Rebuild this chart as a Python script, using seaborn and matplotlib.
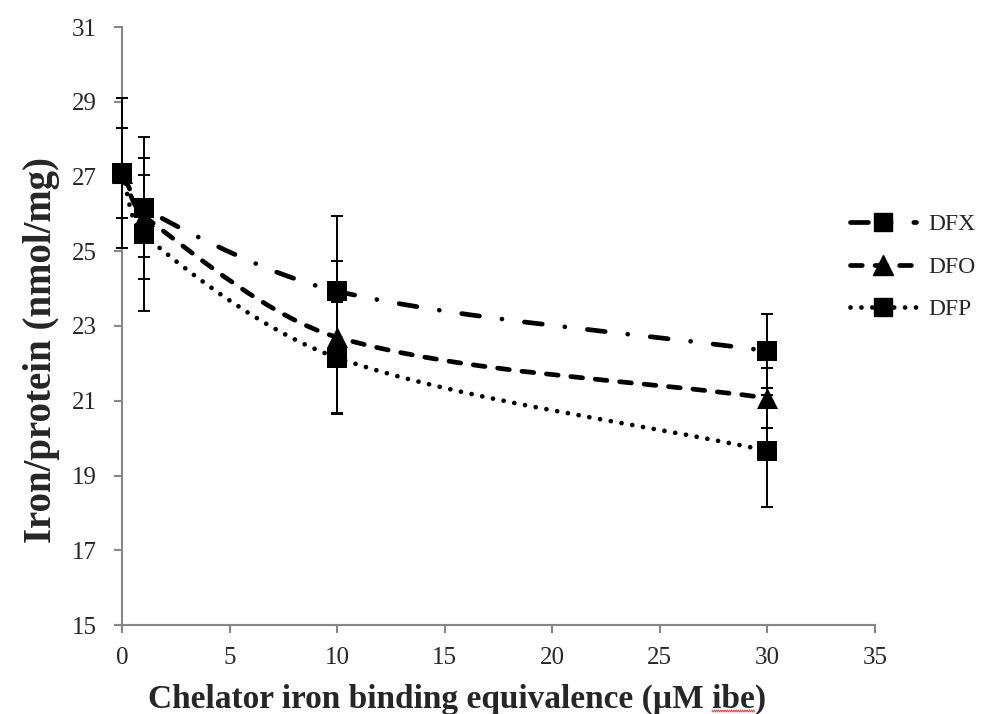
import numpy as np
import matplotlib
matplotlib.use("Agg")
import matplotlib.pyplot as plt
from matplotlib.path import Path
from matplotlib.patches import PathPatch
from matplotlib.lines import Line2D
from matplotlib.text import Text
import seaborn as sns

# Chelator dose (µM iron binding equivalence)
doses = [0, 1, 10, 30]

# Cellular iron / protein (nmol/mg), mean and error
dfx_mean = [27.1, 26.15, 23.93, 22.33]
dfx_err = [2.0, 1.9, 2.0, 1.0]
dfo_mean = [27.1, 25.95, 22.7, 21.07]
dfo_err = [1.2, 1.1, 2.03, 0.8]
dfp_mean = [27.1, 25.45, 22.15, 19.66]
dfp_err = [2.0, 2.05, 1.5, 1.5]

series_names = ["DFX", "DFO", "DFP"]
x_ticks = [0, 5, 10, 15, 20, 25, 30, 35]
y_ticks = [15, 17, 19, 21, 23, 25, 27, 29, 31]

sns.set_style("white")
plt.rcParams["font.family"] = ["Liberation Serif", "DejaVu Serif"]

W, H = 983, 714
fig = plt.figure(figsize=(W / 100, H / 100), dpi=100)
ax = fig.add_axes([122 / W, 1 - 625 / H, 753 / W, 598 / H])
ax.set_xlim(0, 35)
ax.set_ylim(15, 31)

LW = 3.4
AXIS_GREY = "#878787"
styles = {
    "DFX": dict(marker="s", dashes=(3.8, 4.8, 0.01, 4.8)),
    "DFO": dict(marker="^", dashes=(2.5, 2.7)),
    "DFP": dict(marker="s", dashes=(0.01, 2.3)),
}
data = {
    "DFX": (dfx_mean, dfx_err),
    "DFO": (dfo_mean, dfo_err),
    "DFP": (dfp_mean, dfp_err),
}


def smooth_path(ax, xs, ys, k=0.3):
    """Cubic Bezier through the points, tangents from neighbours (display space)."""
    pts = ax.transData.transform(np.column_stack([xs, ys]))
    n = len(pts)
    tang = []
    for i in range(n):
        a = pts[max(i - 1, 0)]
        b = pts[min(i + 1, n - 1)]
        d = b - a
        tang.append(d / np.hypot(*d))
    verts = [pts[0]]
    codes = [Path.MOVETO]
    for i in range(n - 1):
        seg = np.hypot(*(pts[i + 1] - pts[i]))
        c1 = pts[i] + tang[i] * seg * k
        c2 = pts[i + 1] - tang[i + 1] * seg * k
        verts += [c1, c2, pts[i + 1]]
        codes += [Path.CURVE4] * 3
    verts = ax.transData.inverted().transform(np.array(verts))
    return Path(verts, codes)


for name in series_names:
    mean, err = data[name]
    st = styles[name]
    path = smooth_path(ax, doses, mean)
    patch = PathPatch(path, facecolor="none", edgecolor="black", lw=LW,
                      capstyle="round", zorder=2)
    patch.set_linestyle((0, st["dashes"]))
    ax.add_patch(patch)
    eb = ax.errorbar(doses, mean, yerr=err, fmt="none", ecolor="black",
                     elinewidth=1.4, capsize=4.5, capthick=1.4, zorder=3)
    for art in eb.lines[1] + eb.lines[2]:
        art.set_clip_on(False)
    sns.scatterplot(x=doses, y=mean, marker=st["marker"],
                    s=200 if st["marker"] == "s" else 230,
                    color="black", edgecolor="black", linewidth=0,
                    ax=ax, zorder=4, legend=False, clip_on=False)

# axes styling
for side in ["top", "right"]:
    ax.spines[side].set_visible(False)
for side in ["left", "bottom"]:
    ax.spines[side].set_color(AXIS_GREY)
    ax.spines[side].set_linewidth(1.5)
ax.set_xticks(x_ticks)
ax.set_yticks(y_ticks)
ax.tick_params(axis="both", which="major", direction="out", length=6,
               width=1.5, color=AXIS_GREY, left=True, bottom=True)
ax.tick_params(axis="x", labelsize=18, pad=10)
ax.tick_params(axis="y", labelsize=18, pad=12)

xlabel = ax.set_xlabel("Chelator iron binding equivalence (µM ibe)",
                       fontsize=24, fontweight="bold")
ax.xaxis.set_label_coords(457 / W, 1 - 708 / H, transform=fig.transFigure)
xlabel.set_verticalalignment("baseline")

ylabel = ax.set_ylabel("Iron/protein (nmol/mg)", fontsize=28,
                       fontweight="bold")
ax.yaxis.set_label_coords(-0.083, 0.46)

# legend
handles = []
for name in series_names:
    st = styles[name]
    h = Line2D([], [], color="black", lw=LW, dashes=st["dashes"],
               dash_capstyle="round", marker=st["marker"],
               markersize=13 if st["marker"] == "s" else 14,
               markerfacecolor="black", markeredgecolor="black")
    handles.append(h)
leg = fig.legend(handles, series_names, loc="center left",
                 bbox_to_anchor=(850 / W, 1 - 267 / H), frameon=False,
                 fontsize=17, handlelength=2.8, labelspacing=0.88,
                 handletextpad=0.5, borderpad=0, borderaxespad=0)

# proofing underline beneath "ibe" in the axis title
fig.canvas.draw()
renderer = fig.canvas.get_renderer()
bb = xlabel.get_window_extent(renderer)
probe = Text(0, 0, "Chelator iron binding equivalence (µM ", fontsize=24,
             fontweight="bold", figure=fig,
             fontfamily=["Liberation Serif", "DejaVu Serif"])
w_pre = probe.get_window_extent(renderer).width
probe.set_text("ibe")
w_ibe = probe.get_window_extent(renderer).width
x0 = bb.x0 + w_pre
xs = np.linspace(x0, x0 + w_ibe, 40)
ys = (H - 711) + 1.0 * np.where(np.arange(40) % 2 == 0, 1, -1)
fig.add_artist(Line2D(xs / W, ys / H, transform=fig.transFigure,
                      color="#e05050", lw=0.8))

fig.savefig("out.png", dpi=100)
